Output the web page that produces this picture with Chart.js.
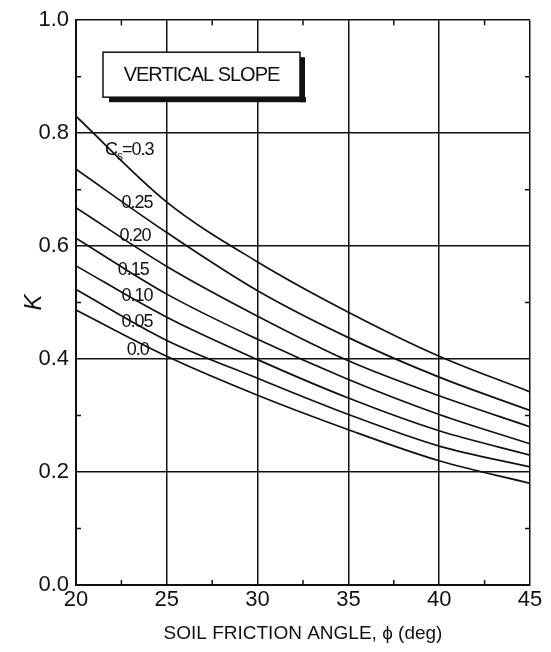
<!DOCTYPE html>
<html>
<head>
<meta charset="utf-8">
<script src="https://cdn.jsdelivr.net/npm/chart.js@4"></script>
<style>
  html, body { margin: 0; padding: 0; background: #fff; }
  #wrap { width: 551px; height: 652px; position: relative; }
</style>
</head>
<body>
<div id="wrap"><canvas id="myChart" width="551" height="652"></canvas></div>
<script>
const phi = [20, 25, 30, 35, 40, 45];
const csLabels = ["0.0", "0.05", "0.10", "0.15", "0.20", "0.25", "0.3"];
const k00 = [0.487, 0.405, 0.336, 0.275, 0.220, 0.180];
const k05 = [0.523, 0.433, 0.366, 0.302, 0.246, 0.209];
const k10 = [0.565, 0.474, 0.399, 0.331, 0.273, 0.230];
const k15 = [0.614, 0.515, 0.435, 0.364, 0.302, 0.250];
const k20 = [0.668, 0.564, 0.476, 0.397, 0.335, 0.280];
const k25 = [0.736, 0.624, 0.521, 0.438, 0.368, 0.309];
const k30 = [0.830, 0.678, 0.572, 0.483, 0.405, 0.342];
const series = [k00, k05, k10, k15, k20, k25, k30];
// where the curve labels sit (phi, K)
const labelPhi = [22.8, 22.5, 22.5, 22.3, 22.4, 22.5, 21.6];
const labelK = [0.416, 0.466, 0.511, 0.558, 0.617, 0.676, 0.771];

const ink = "#111";
const txtFont = "'Liberation Sans', Arial, sans-serif";

const datasets = series.map((vals, i) => ({
  label: "Cs=" + csLabels[i],
  data: phi.map((p, j) => ({ x: p, y: vals[j] })),
  borderColor: ink,
  borderWidth: 1.7,
  pointRadius: 0,
  fill: false,
  cubicInterpolationMode: "monotone",
}));

const extras = {
  id: "extras",
  afterDraw(chart) {
    const c = chart.ctx;
    const a = chart.chartArea;
    const xs = chart.scales.x;
    const ys = chart.scales.y;
    c.save();
    // minor ticks on all four sides
    c.strokeStyle = ink;
    c.lineWidth = 1.5;
    c.beginPath();
    for (let v = 22.5; v < 45; v += 5) {
      const px = xs.getPixelForValue(v);
      c.moveTo(px, a.bottom); c.lineTo(px, a.bottom - 5);
      c.moveTo(px, a.top); c.lineTo(px, a.top + 5);
    }
    for (let v = 0.1; v < 1; v += 0.2) {
      const py = ys.getPixelForValue(v);
      c.moveTo(a.left, py); c.lineTo(a.left + 5, py);
      c.moveTo(a.right, py); c.lineTo(a.right - 5, py);
    }
    c.stroke();

    // title box with shadow
    const bx = a.left + 27, by = a.top + 32, bw = 197, bh = 45;
    c.fillStyle = ink;
    c.fillRect(bx + 6, by + bh, bw, 5);
    c.fillRect(bx + bw, by + 5, 5, bh);
    c.fillStyle = "#fff";
    c.fillRect(bx, by, bw, bh);
    c.strokeStyle = ink;
    c.lineWidth = 1.5;
    c.strokeRect(bx, by, bw, bh);
    c.fillStyle = ink;
    c.font = "20px " + txtFont;
    c.letterSpacing = "-1px";
    c.textAlign = "center";
    c.textBaseline = "middle";
    c.fillText("VERTICAL SLOPE", bx + bw / 2, by + bh / 2 + 1);

    // curve labels
    c.font = "18px " + txtFont;
    c.textAlign = "left";
    for (let i = 0; i < csLabels.length; i++) {
      const px = xs.getPixelForValue(labelPhi[i]);
      const py = ys.getPixelForValue(labelK[i]);
      if (i === csLabels.length - 1) {
        c.fillText("C", px, py);
        const w = c.measureText("C").width;
        c.font = "12px " + txtFont;
        c.fillText("s", px + w, py + 7);
        const w2 = c.measureText("s").width;
        c.font = "18px " + txtFont;
        c.fillText("=" + csLabels[i], px + w + w2, py);
      } else {
        c.fillText(csLabels[i], px, py);
      }
    }
    c.restore();
  },
};

new Chart(document.getElementById("myChart"), {
  type: "line",
  data: { datasets: datasets },
  options: {
    responsive: false,
    animation: false,
    layout: { padding: { top: 18, right: 21, left: 0, bottom: 0 } },
    plugins: { legend: { display: false }, tooltip: { enabled: false } },
    scales: {
      x: {
        type: "linear",
        min: 20,
        max: 45,
        ticks: {
          stepSize: 5,
          color: ink,
          padding: 2,
          font: { family: txtFont, size: 22 },
        },
        grid: { color: ink, lineWidth: 1.5, drawTicks: false },
        border: { color: ink, width: 2 },
        title: {
          display: true,
          text: "SOIL FRICTION ANGLE, \u03D5 (deg)",
          color: ink,
          font: { family: txtFont, size: 19 },
          padding: { top: 4, bottom: 7 },
        },
        afterFit(s) { s.height = 67; },
      },
      y: {
        min: 0,
        max: 1,
        ticks: {
          stepSize: 0.2,
          color: ink,
          padding: 7,
          font: { family: txtFont, size: 22 },
          callback: (v) => v.toFixed(1),
        },
        grid: { color: ink, lineWidth: 1.5, drawTicks: false },
        border: { color: ink, width: 2 },
        title: {
          display: true,
          text: "K",
          color: ink,
          font: { family: txtFont, size: 24, style: "italic" },
          padding: { top: 20, bottom: 0 },
        },
        afterFit(s) { s.width = 76; },
      },
    },
  },
  plugins: [extras],
});
</script>
</body>
</html>
